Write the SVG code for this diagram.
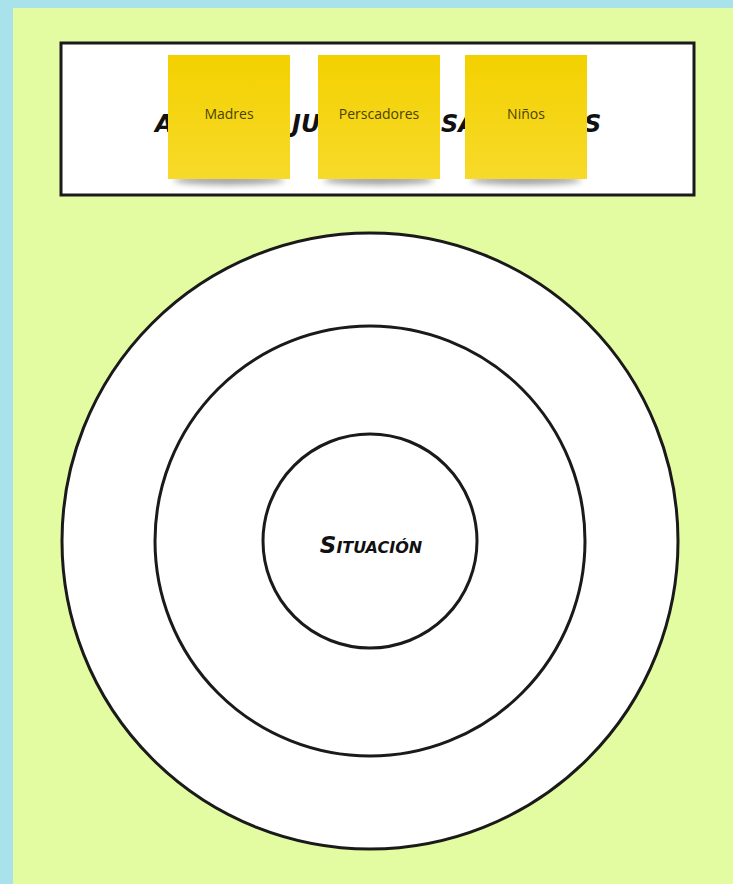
<svg xmlns="http://www.w3.org/2000/svg" width="733" height="884" viewBox="0 0 733 884">
<defs>
<linearGradient id="note" x1="0" y1="0" x2="0" y2="1">
<stop offset="0" stop-color="#f3d100"/>
<stop offset="1" stop-color="#f7da2a"/>
</linearGradient>
<filter id="blur" x="-20%" y="-100%" width="140%" height="300%"><feGaussianBlur stdDeviation="3"/></filter>
</defs>
<style>
.ring{fill:#ffffff;stroke:#1a1a1a;stroke-width:3}
.hand{font-family:"DejaVu Sans",sans-serif;font-weight:bold;font-style:oblique;fill:#111}
.note{fill:url(#note)}
.shadow{fill:#555;opacity:0.55;filter:url(#blur)}
.nt{font-family:"Open Sans","Noto Sans",sans-serif;font-size:14px;fill:#4a4200;text-anchor:middle}
</style>
<rect x="0" y="0" width="733" height="884" fill="#a9e2ea"/>
<rect x="13" y="8" width="720" height="876" fill="#e3fca2"/>
<g id="title-box">
<rect x="61" y="43" width="633" height="152" fill="#ffffff" stroke="#1a1a1a" stroke-width="3"/>
<text class="hand" x="155" y="132" font-size="24">A</text>
<text class="hand" x="292" y="132" font-size="24">JU</text>
<text class="hand" x="441" y="132" font-size="24">SA</text>
<text class="hand" x="584" y="132" font-size="24">S</text>
</g>
<g id="note-madres">
<ellipse class="shadow" cx="229" cy="180" rx="55" ry="5"/>
<rect class="note" x="168" y="55" width="122" height="124"/>
<text class="nt" x="229" y="119">Madres</text>
</g>
<g id="note-perscadores">
<ellipse class="shadow" cx="379" cy="180" rx="55" ry="5"/>
<rect class="note" x="318" y="55" width="122" height="124"/>
<text class="nt" x="379" y="119">Perscadores</text>
</g>
<g id="note-ninos">
<ellipse class="shadow" cx="526" cy="180" rx="55" ry="5"/>
<rect class="note" x="465" y="55" width="122" height="124"/>
<text class="nt" x="526" y="119">Niños</text>
</g>
<g id="circle-outer">
<circle cx="370" cy="541" r="308" class="ring"/>
</g>
<g id="circle-middle">
<circle cx="370" cy="541" r="215" class="ring"/>
</g>
<g id="circle-inner">
<circle cx="370" cy="541" r="107" class="ring"/>
<text class="hand" x="371" y="553" font-size="23" text-anchor="middle" font-variant="small-caps">Situación</text>
</g>
</svg>
